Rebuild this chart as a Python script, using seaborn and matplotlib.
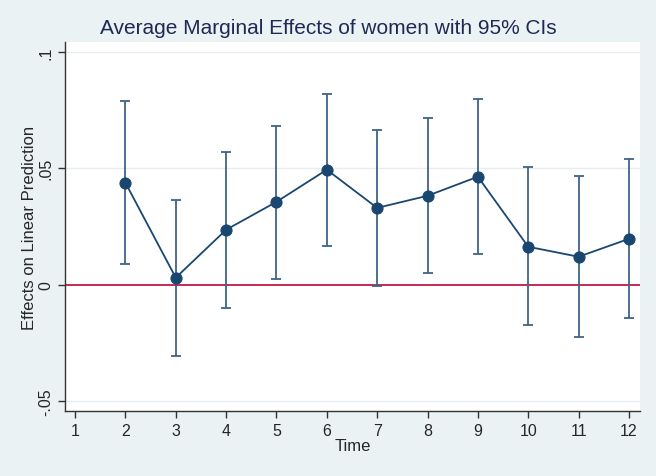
import matplotlib
matplotlib.use("Agg")
import matplotlib.pyplot as plt
import seaborn as sns
import pandas as pd

time = [2, 3, 4, 5, 6, 7, 8, 9, 10, 11, 12]
effect = [0.0438, 0.0030, 0.0236, 0.0356, 0.0494, 0.0330, 0.0382, 0.0464, 0.0163, 0.0120, 0.0197]
ci_low = [0.0090, -0.0305, -0.0099, 0.0026, 0.0167, -0.0004, 0.0052, 0.0133, -0.0172, -0.0227, -0.0142]
ci_high = [0.0790, 0.0365, 0.0570, 0.0680, 0.0820, 0.0665, 0.0717, 0.0798, 0.0506, 0.0468, 0.0541]
x_ticks = [1, 2, 3, 4, 5, 6, 7, 8, 9, 10, 11, 12]
y_ticks = [-0.05, 0, 0.05, 0.1]
y_labels = ["-.05", "0", ".05", ".1"]

df = pd.DataFrame({"Time": time, "effect": effect, "lo": ci_low, "hi": ci_high})

sns.set_style("white")
plt.rcParams["font.family"] = ["Liberation Sans", "DejaVu Sans"]

bg = "#eaf2f3"
navy = "#1a476f"
fig = plt.figure(figsize=(6.56, 4.77), dpi=100, facecolor=bg)
ax = fig.add_axes([65/656, 1 - 412/477, (640-65)/656, (412-43)/477])
ax.set_facecolor("white")

for y in y_ticks:
    if y != 0:
        ax.axhline(y, color="#e6eef0", lw=1.0, zorder=0)
ax.axhline(0, color="#c10534", lw=1.2, zorder=1)

ax.errorbar(df["Time"], df["effect"],
            yerr=[df["effect"] - df["lo"], df["hi"] - df["effect"]],
            fmt="none", ecolor="#3f6386", elinewidth=1.3, capsize=3.5, capthick=1.3, zorder=2)
sns.lineplot(data=df, x="Time", y="effect", ax=ax, color=navy, lw=1.3,
             marker="o", markersize=8, markeredgecolor=navy, markerfacecolor=navy, zorder=3)

ax.set_xlim(0.8, 12.22)
ax.set_ylim(-0.0543, 0.1043)
ax.set_xticks(x_ticks)
ax.set_xticklabels([str(t) for t in x_ticks], fontsize=11.5)
ax.set_yticks(y_ticks)
ax.set_yticklabels(y_labels, fontsize=11.5, rotation=90, va="center")
ax.tick_params(axis="both", direction="out", length=5, width=1, color="#333333", left=True, bottom=True)
ax.set_xlabel("Time", fontsize=12, labelpad=0.5)
ax.set_ylabel("Effects on Linear Prediction", fontsize=12, labelpad=1)

for s in ["top", "right"]:
    ax.spines[s].set_visible(False)
for s in ["left", "bottom"]:
    ax.spines[s].set_color("#333333")
    ax.spines[s].set_linewidth(1)

fig.text(0.5, 1 - 34/477, "Average Marginal Effects of women with 95% CIs",
         ha="center", va="baseline", fontsize=15, color="#1e2a55")

fig.savefig("out.png", dpi=100, facecolor=bg)
